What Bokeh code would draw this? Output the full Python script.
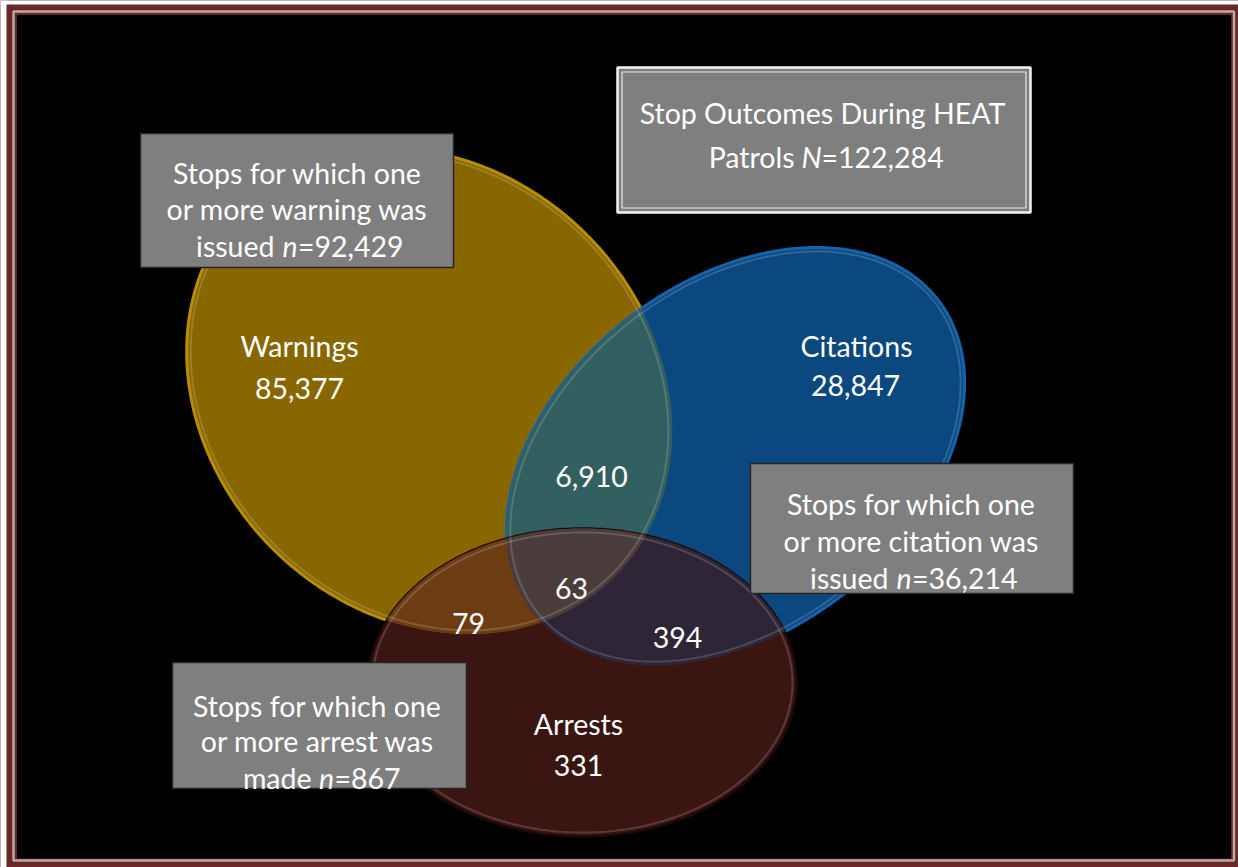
import numpy as np
from bokeh.plotting import figure
from bokeh.models import Range1d
from bokeh.core.properties import value
from bokeh.embed import file_html
from bokeh.resources import INLINE

# ---------------- data ----------------
set_names = ["Warnings", "Citations", "Arrests"]
only_counts = [85377, 28847, 331]            # exclusive to one set
pair_names = ["Warnings & Citations", "Warnings & Arrests", "Citations & Arrests"]
pair_counts = [6910, 79, 394]
triple_count = 63
set_totals = [92429, 36214, 867]             # n for each set
total_stops = 122284                         # N
box_nouns = ["warning", "citation", "arrest"]
box_verbs = ["issued", "issued", "made"]
title_text = "Stop Outcomes During HEAT"

# ---------------- layout (pixel space) ----------------
FONT = "Lato"
FS = "28.5px"
WHITE = "#FFFFFF"
# ellipse geometry: cx, cy, a, b, angle(deg, counter-clockwise on screen)
geom = {
    "Warnings": (429, 391, 262, 222, -45.0),
    "Citations": (735, 456, 256, 175, 37.7),
    "Arrests": (582, 682, 214, 154, 0.0),
}
fill = {"Warnings": "#886600", "Citations": "#0B4880", "Arrests": "#3A1512"}
rim = {"Warnings": "#B88E00", "Citations": "#1464AD", "Arrests": "#1C0907"}
pair_fill = {"Warnings & Citations": "#325F60", "Warnings & Arrests": "#6C3D13",
             "Citations & Arrests": "#2E2536"}
triple_fill = "#4B3D3C"


def ellipse_pts(cx, cy, a, b, ang, n=360):
    t = np.linspace(0, 2 * np.pi, n, endpoint=False)
    th = np.radians(ang)
    x = cx + a * np.cos(t) * np.cos(th) - b * np.sin(t) * np.sin(th)
    y = cy - (a * np.cos(t) * np.sin(th) + b * np.sin(t) * np.cos(th))
    return list(zip(x, y))


def signed_area(poly):
    s = 0.0
    for i in range(len(poly)):
        x1, y1 = poly[i]
        x2, y2 = poly[(i + 1) % len(poly)]
        s += x1 * y2 - x2 * y1
    return s / 2


def clip(subject, clipper):
    sgn = 1 if signed_area(clipper) > 0 else -1

    def inside(p, a, b):
        return sgn * ((b[0] - a[0]) * (p[1] - a[1]) - (b[1] - a[1]) * (p[0] - a[0])) >= 0

    def inter(p1, p2, a, b):
        x1, y1 = p1; x2, y2 = p2; x3, y3 = a; x4, y4 = b
        den = (x1 - x2) * (y3 - y4) - (y1 - y2) * (x3 - x4)
        if abs(den) < 1e-12:
            return p2
        t = ((x1 - x3) * (y3 - y4) - (y1 - y3) * (x3 - x4)) / den
        return (x1 + t * (x2 - x1), y1 + t * (y2 - y1))

    out = subject
    for i in range(len(clipper)):
        a = clipper[i]
        b = clipper[(i + 1) % len(clipper)]
        inp = out
        out = []
        if not inp:
            break
        s = inp[-1]
        for e in inp:
            if inside(e, a, b):
                if not inside(s, a, b):
                    out.append(inter(s, e, a, b))
                out.append(e)
            elif inside(s, a, b):
                out.append(inter(s, e, a, b))
            s = e
    return out


p = figure(width=1238, height=867, x_range=Range1d(0, 1238), y_range=Range1d(867, 0),
           output_backend="svg", toolbar_location=None, min_border=0,
           x_axis_location=None, y_axis_location=None)
p.grid.visible = False
p.outline_line_color = None
p.background_fill_color = "#6A2727"
p.border_fill_color = "#6A2727"

# page edge (white strip) and frame
p.quad(left=[0], right=[6], top=[0], bottom=[867], fill_color="#FFFFFF", line_color=None)
p.quad(left=[0], right=[1238], top=[0], bottom=[4], fill_color="#FFFFFF", line_color=None)
p.quad(left=[13], right=[1233.5], top=[11], bottom=[860], fill_color=None,
       line_color="#B9A9A9", line_width=2.5)
p.quad(left=[16.5], right=[1230.5], top=[14.5], bottom=[858], fill_color="#000000",
       line_color=None)

polys = {k: ellipse_pts(*geom[k]) for k in set_names}


def patch(poly, color, line=None, lw=0, alpha=1.0):
    xs = [q[0] for q in poly]
    ys = [q[1] for q in poly]
    p.patch(xs, ys, fill_color=color, fill_alpha=alpha, line_color=line,
            line_width=lw)


W, C, A = polys["Warnings"], polys["Citations"], polys["Arrests"]
patch(W, fill["Warnings"], rim["Warnings"], 3)
patch(C, fill["Citations"], rim["Citations"], 3)
patch(clip(W, C), pair_fill["Warnings & Citations"])
patch(A, fill["Arrests"], rim["Arrests"], 2.5)
patch(clip(A, W), pair_fill["Warnings & Arrests"])
patch(clip(A, C), pair_fill["Citations & Arrests"])
patch(clip(clip(A, W), C), triple_fill)

# faint glossy rims
for k in set_names:
    cx, cy, a, b, ang = geom[k]
    inner = ellipse_pts(cx, cy, a - 4, b - 4, ang)
    p.line([q[0] for q in inner] + [inner[0][0]], [q[1] for q in inner] + [inner[0][1]],
           line_color="#FFFFFF", line_alpha=0.16, line_width=2)


def txt(x, y, s, align="center", style="normal", size=FS):
    p.text(x=[x], y=[y], text=[s], text_align=align, text_baseline="alphabetic",
           text_color=WHITE, text_font=value(FONT), text_font_size=size,
           text_font_style=style)


# region labels
set_label_pos = {"Warnings": ((299, 345), (299, 388)),
                 "Citations": ((856, 345), (855, 385)),
                 "Arrests": ((578, 723), (578, 765))}
for name, cnt in zip(set_names, only_counts):
    (x1, y1), (x2, y2) = set_label_pos[name]
    txt(x1, y1, name)
    txt(x2, y2, f"{cnt:,}")

pair_pos = {"Warnings & Citations": (591, 476), "Warnings & Arrests": (468, 623),
            "Citations & Arrests": (677, 637)}
for name, cnt in zip(pair_names, pair_counts):
    x, y = pair_pos[name]
    txt(x, y, f"{cnt:,}")
txt(571, 588, f"{triple_count:,}")

# annotation boxes
boxes = {
    "Warnings": dict(rect=(140, 453, 133, 267), cx=297, base=(172, 208, 245),
                     pieces=(274, 289.5, 297.5)),
    "Citations": dict(rect=(750, 1073, 463, 593), cx=911, base=(503, 540, 577),
                      pieces=(888, 903.5, 911.5)),
    "Arrests": dict(rect=(172, 466, 662, 788), cx=317, base=(705, 740, 777),
                    pieces=(311, 326, 334)),
}
for name, noun, verb, tot in zip(set_names, box_nouns, box_verbs, set_totals):
    bx = boxes[name]
    l, r, t, b = bx["rect"]
    p.quad(left=[l], right=[r], top=[t], bottom=[b], fill_color="#7F7F7F",
           line_color="#262626", line_width=1.5)
    txt(bx["cx"], bx["base"][0], "Stops for which one")
    txt(bx["cx"], bx["base"][1], f"or more {noun} was")
    x1, x2, x3 = bx["pieces"]
    txt(x1, bx["base"][2], verb, align="right")
    txt(x2, bx["base"][2], "n", style="italic")
    txt(x3, bx["base"][2], f"={tot:,}", align="left")

# title box
p.quad(left=[617], right=[1030], top=[67], bottom=[212], fill_color="#7F7F7F",
       line_color="#F2F2F2", line_width=2.5)
p.quad(left=[621.5], right=[1025.5], top=[71.5], bottom=[207.5], fill_color=None,
       line_color="#E6E6E6", line_width=1.2)
txt(822, 112, title_text)
txt(794, 156, "Patrols", align="right")
txt(811, 156, "N", style="italic")
txt(821, 156, f"={total_stops:,}", align="left")

open("out.html", "w").write(file_html(p, INLINE))
